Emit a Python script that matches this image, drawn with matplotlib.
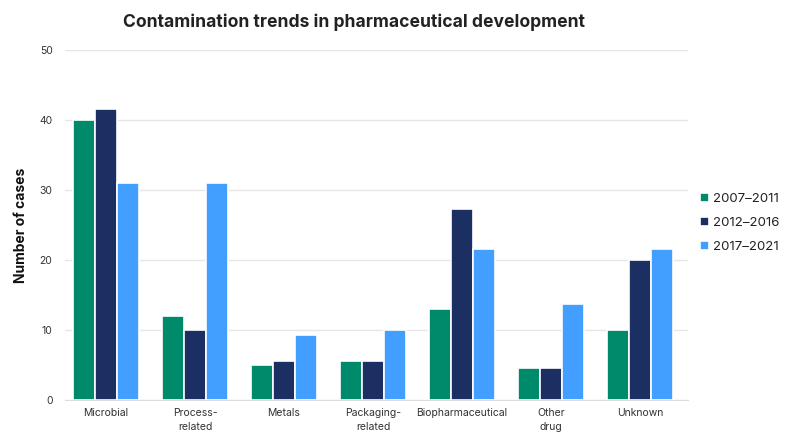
import matplotlib
matplotlib.use("Agg")
import matplotlib.pyplot as plt
import numpy as np

categories = ["Microbial", "Process-\nrelated", "Metals", "Packaging-\nrelated",
              "Biopharmaceutical", "Other\ndrug", "Unknown"]
series_names = ["2007\u20132011", "2012\u20132016", "2017\u20132021"]
s2007 = [40, 12, 5, 5.6, 13, 4.6, 10]
s2012 = [41.6, 10, 5.6, 5.6, 27.3, 4.6, 20]
s2017 = [31, 31, 9.3, 10, 21.5, 13.7, 21.5]
colors = ["#008A6C", "#1B2F63", "#429EFF"]
yticks = [0, 10, 20, 30, 40, 50]

plt.rcParams['font.family'] = ['Inter', 'DejaVu Sans']

fig = plt.figure(figsize=(8, 4.47), dpi=100)
ax = fig.add_axes([65/800, 1-400/447, (688-65)/800, 350/447])

x = np.arange(len(categories))
w = 0.25
for i, (vals, name, c) in enumerate(zip([s2007, s2012, s2017], series_names, colors)):
    ax.bar(x + (i-1)*w, vals, width=w, color=c, edgecolor='white', linewidth=1.2,
           label=name, zorder=3)

ax.set_ylim(0, 50)
ax.set_xlim(-0.46, 6.54)
ax.set_yticks(yticks)
ax.set_xticks(x)
ax.set_xticklabels(categories, fontsize=7.5, color='#333333', linespacing=1.5)
ax.tick_params(axis='y', labelsize=7.5, labelcolor='#333333', length=0, pad=9)
ax.tick_params(axis='x', length=0, pad=6)
ax.grid(axis='y', color='#e6e6e6', linewidth=1, zorder=0)
for s in ['top', 'right', 'left']:
    ax.spines[s].set_visible(False)
ax.spines['bottom'].set_color('#dddddd')
ax.set_ylabel("Number of cases", fontsize=10, fontweight='bold', color='#111111', labelpad=8)

fig.text(354/800, 1-22/447, "Contamination trends in pharmaceutical development",
         ha='center', va='center', fontsize=12.6, fontweight='bold', color='#222222')

leg = ax.legend(loc='center left', bbox_to_anchor=(1.0, 0.505), frameon=False,
                fontsize=9.5, handlelength=0.7, handleheight=0.7, handletextpad=0.3,
                labelspacing=0.9)
for t in leg.get_texts():
    t.set_color('#222222')

fig.savefig("out.png", dpi=100)
